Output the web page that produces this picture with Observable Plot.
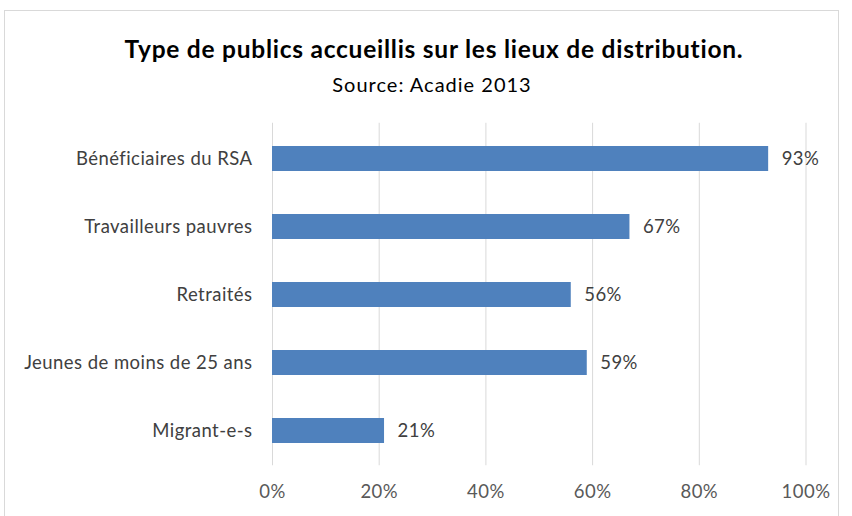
<!DOCTYPE html>
<html><head><meta charset="utf-8">
<script src="https://cdn.jsdelivr.net/npm/d3@7"></script>
<script src="https://cdn.jsdelivr.net/npm/@observablehq/plot@0.6"></script>
<style>
body{margin:0;background:#fff;}
#wrap{position:relative;width:852px;height:516px;overflow:hidden;font-family:Lato,"Liberation Sans",sans-serif;color:#000;}
#frame{position:absolute;left:4px;top:10px;width:833px;height:540px;border:1px solid #d9d9d9;}
#title{position:absolute;top:35px;left:0;width:868px;text-align:center;font-weight:bold;font-size:24.5px;letter-spacing:0.75px;line-height:28px;}
#sub{position:absolute;top:72px;left:0;width:864px;text-align:center;font-size:20px;letter-spacing:1px;line-height:24px;}
#chart{position:absolute;top:110px;left:0;}
#chart svg text{letter-spacing:0.45px;}
</style></head>
<body>
<div id="wrap">
<div id="frame"></div>
<div id="title">Type de publics accueillis sur les lieux de distribution.</div>
<div id="sub">Source: Acadie 2013</div>
<div id="chart"></div>
</div>
<script>
const categories = ["Bénéficiaires du RSA","Travailleurs pauvres","Retraités","Jeunes de moins de 25 ans","Migrant-e-s"];
const values = [0.93,0.67,0.56,0.59,0.21];
const xTicks = [0,0.2,0.4,0.6,0.8,1];

const data = categories.map((c,i)=>({cat:c,value:values[i]}));
const pct = d=>Math.round(d*100)+"%";

const chart = Plot.plot({
  width:852, height:406,
  marginLeft:272, marginRight:46.5, marginTop:12.75, marginBottom:50.75,
  style:{fontFamily:"Lato, 'Liberation Sans', sans-serif", fontSize:"18.5px", color:"#404040", background:"transparent"},
  x:{domain:[0,1], label:null},
  y:{domain:categories, paddingInner:0.635, paddingOuter:0.3175, label:null},
  marks:[
    Plot.gridX(xTicks,{stroke:"#d9d9d9", strokeOpacity:1, strokeWidth:1}),
    Plot.barX(data,{x:"value", y:"cat", fill:"#4F81BD"}),
    Plot.text(data,{x:"value", y:"cat", text:d=>pct(d.value), dx:13, textAnchor:"start", fill:"#404040", fontSize:18.5}),
    Plot.axisX(xTicks,{tickSize:0, tickPadding:19, tickFormat:pct, fill:"#595959", label:null, fontSize:18.5}),
    Plot.axisY({tickSize:0, tickPadding:20, fill:"#404040", label:null, fontSize:18.5})
  ]
});
document.getElementById("chart").appendChild(chart);
</script>
</body></html>
